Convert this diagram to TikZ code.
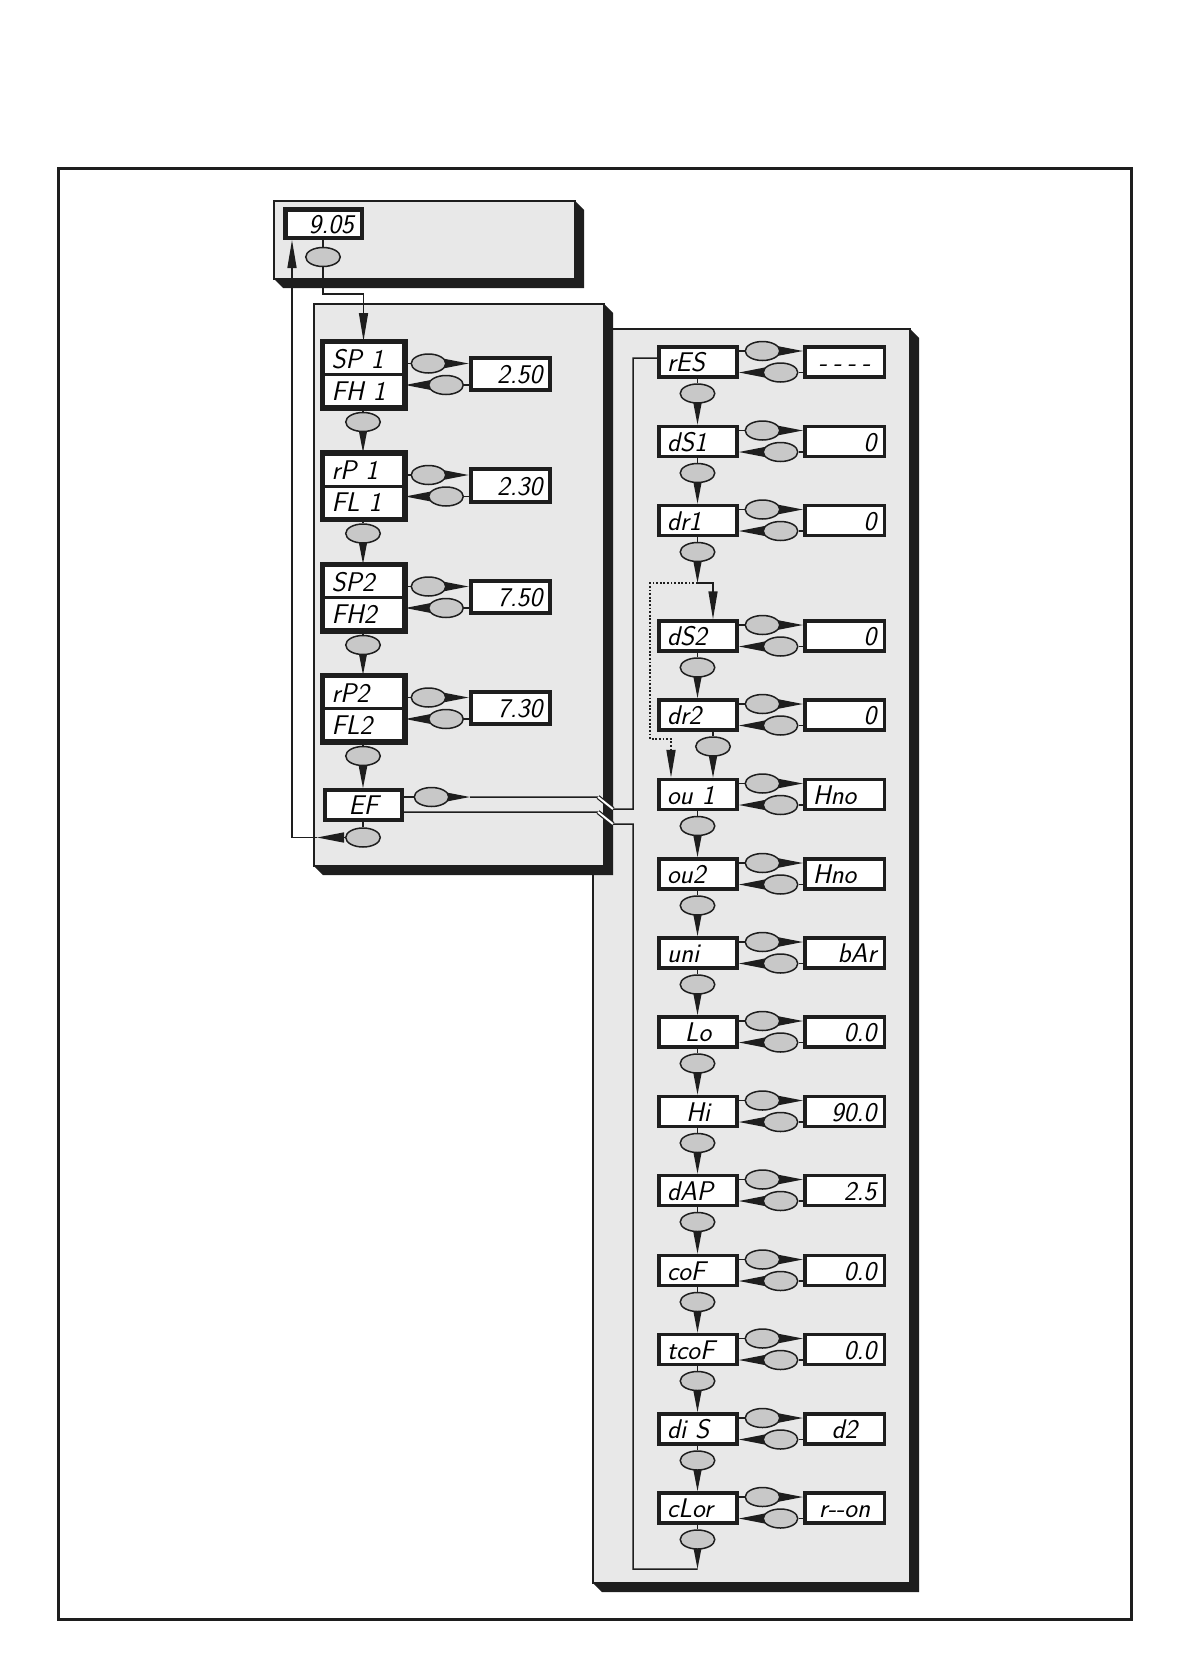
\documentclass[tikz,border=0pt]{standalone}
\usepackage{fontspec}
\usepackage{tikz}
\usetikzlibrary{arrows.meta,shapes.geometric}
\definecolor{ink}{HTML}{1E1E1E}
\definecolor{panelgray}{HTML}{E8E8E8}
\definecolor{keygray}{HTML}{C8C8C8}
\pgfdeclarelayer{back}
\pgfdeclarelayer{wire}
\pgfsetlayers{back,wire,main}
\tikzset{
  every picture/.style={line join=miter, >=Triangle},
  lcd/.style={font=\fontsize{27pt}{27pt}\selectfont\sffamily\itshape},
  disp/.style={draw=ink, fill=white, line width=3.5pt, lcd, inner xsep=8pt, inner ysep=0pt, text height=19pt, text depth=0pt},
  cell/.style={disp, line width=3pt, text width=64pt, minimum height=32pt, align=left},
  lbox/.style={disp, text width=62pt, minimum height=30pt},
  vbox/.style={disp, text width=63.5pt, minimum height=30pt},
  button/.style={ellipse, draw=ink, fill=keygray, line width=1.5pt, minimum width=34.5pt, minimum height=19pt, inner sep=0pt},
  conn/.style={draw=ink, line width=1.5pt},
  push/.style={conn, -{Triangle[length=27pt,width=10pt]}},
  flow/.style={conn, -{Triangle[length=28pt,width=9pt]}},
  dots/.style={conn, line width=1.8pt, dash pattern=on 1.8pt off 1.8pt},
  cut/.style={draw=ink, line width=1.2pt, double=white, double distance=2pt},
}
\newcommand{\menupanel}[4]{%
  \fill[ink] (#3,#2) -- (#3+9,#2+9) -- (#3+9,#4+9) -- (#1+9,#4+9) -- (#1,#4) -- (#3,#4) -- cycle;
  \draw[ink, fill=panelgray, line width=1.5pt] (#1,#2) rectangle (#3,#4);
}

\begin{document}
\begin{tikzpicture}[x=1pt,y=-1pt]
\useasboundingbox (0,0) rectangle (1191,1678);
\draw[ink, line width=3pt] (58.5,168.5) rectangle (1131,1619);
\begin{pgfonlayer}{back}
\menupanel{274}{201}{575}{279}
\menupanel{593}{329}{910}{1583}
\menupanel{314}{304}{604}{866}
\end{pgfonlayer}

\node[disp, line width=4.5pt, text width=60.5pt, minimum height=28.5pt, align=right] (disp) at (323.5,223.5) {9.05};
\node[button] (kt) at (323,257) {};

\foreach \i/\ty/\la/\lb/\val in {1/340/SP 1/FH 1/2.50, 2/451.5/rP 1/FL 1/2.30, 3/563/SP2/FH2/7.50, 4/674/rP2/FL2/7.30}{
  \node[cell] (a\i) at (363.5,\ty+18.5) {\la};
  \node[cell] (b\i) at (363.5,\ty+50.5) {\lb};
  \draw[ink, line width=5pt] (a\i.north west) rectangle (b\i.south east);
  \node[vbox, line width=4pt, minimum height=32.5pt, align=right] (w\i) at (510.5,\ty+34) {\val};
  \node[button] (ku\i) at (428.5,\ty+23.5) {};
  \node[button] (kd\i) at (446,\ty+45) {};
  \node[button] (kn\i) at (363,\ty+82) {};
  \begin{pgfonlayer}{wire}
    \draw[conn] (a\i.east |- ku\i) -- (ku\i);
    \draw[push] (ku\i) -- (w\i.west |- ku\i);
    \draw[conn] (w\i.west |- kd\i) -- (kd\i);
    \draw[push] (kd\i) -- (b\i.east |- kd\i);
    \draw[conn] (b\i.south -| kn\i) -- (kn\i);
  \end{pgfonlayer}
}
\node[lbox, text width=61pt, align=center] (ef) at (363.5,805) {EF};
\node[button] (ke) at (431.5,797) {};
\node[button] (kf) at (363,837.5) {};

\foreach \i/\y/\lab/\la/\val/\va/\dx in {
  1/362/rES/left/{-\hspace{6pt}-\hspace{6pt}-\hspace{6pt}-}/center/697.5,
  2/441.5/dS1/left/0/right/697.5,
  3/520.5/dr1/left/0/right/697.5,
  4/636/dS2/left/0/right/697.5,
  5/715/dr2/left/0/right/713,
  6/794.5/ou 1/left/Hno/left/697.5,
  7/874/ou2/left/Hno/left/697.5,
  8/953/uni/left/bAr/right/697.5,
  9/1032/Lo/center/0.0/right/697.5,
  10/1111.5/Hi/center/90.0/right/697.5,
  11/1190.5/dAP/left/2.5/right/697.5,
  12/1270.5/coF/left/0.0/right/697.5,
  13/1349.5/tcoF/left/0.0/right/697.5,
  14/1429/di S/left/d2/center/697.5,
  15/1508/cLor/left/r{-}{-}on/center/697.5}{
  \node[lbox, align=\la] (l\i) at (698,\y) {\lab};
  \node[vbox, align=\va] (v\i) at (844.5,\y) {\val};
  \node[button] (bu\i) at (762.5,\y-11) {};
  \node[button] (bd\i) at (780.5,\y+10.5) {};
  \node[button] (bn\i) at (\dx,\y+31.5) {};
  \begin{pgfonlayer}{wire}
    \draw[conn] (l\i.east |- bu\i) -- (bu\i);
    \draw[push] (bu\i) -- (v\i.west |- bu\i);
    \draw[conn] (v\i.west |- bd\i) -- (bd\i);
    \draw[push] (bd\i) -- (l\i.east |- bd\i);
    \draw[conn] (l\i.south -| bn\i) -- (bn\i);
  \end{pgfonlayer}
}

\coordinate (ea) at (470,797);
\coordinate (eb) at (598,797);
\coordinate (ec) at (613,809);
\coordinate (ed) at (633,809);
\coordinate (ee) at (633,358);
\coordinate (fa) at (598,812);
\coordinate (fb) at (613,824);
\coordinate (fc) at (633,824);
\coordinate (fd) at (633,1569);
\coordinate (fe) at (697.5,1569);
\coordinate (ga) at (317,837.5);
\coordinate (gb) at (292,837.5);
\coordinate (ha) at (323,294);
\coordinate (ja) at (697.5,583);
\coordinate (jb) at (713,583);
\coordinate (jc) at (650,583);
\coordinate (jd) at (650,739);
\coordinate (je) at (671,739);

\begin{pgfonlayer}{wire}
\draw[conn] (disp.south -| kt) -- (kt);
\draw[flow] (kt) -- (ha) -| (a1.north);
\foreach \p/\q in {1/2,2/3,3/4} \draw[push] (kn\p) -- (a\q.north -| kn\p);
\draw[push] (kn4) -- (ef.north -| kn4);
\draw[conn] (ef.east |- ke) -- (ke);
\draw[push] (ke) -- (ea);
\draw[conn] (ea) -- (eb) -- (ec) -- (ed) -- (ee) -- (l1.west |- ee);
\draw[cut] (eb) -- (ec);
\draw[conn] (ef.south -| kf) -- (kf);
\draw[push] (kf) -- (ga);
\draw[flow] (ga) -- (gb) -- (disp.south -| gb);
\draw[push] (bn15) -- (fe);
\draw[conn] (fe) -- (fd) -- (fc) -- (fb) -- (fa) -- (ef.east |- fa);
\draw[cut] (fa) -- (fb);
\foreach \p/\q in {1/2,2/3,4/5,5/6,6/7,7/8,8/9,9/10,10/11,11/12,12/13,13/14,14/15} \draw[push] (bn\p) -- (l\q.north -| bn\p);
\draw[push] (bn3) -- (ja);
\draw[flow] (ja) -- (jb) -- (l4.north -| jb);
\draw[dots, -{Triangle[length=28pt,width=9pt]}] (ja) -- (jc) -- (jd) -- (je) -- (l6.north -| je);
\end{pgfonlayer}
\end{tikzpicture}
\end{document}
